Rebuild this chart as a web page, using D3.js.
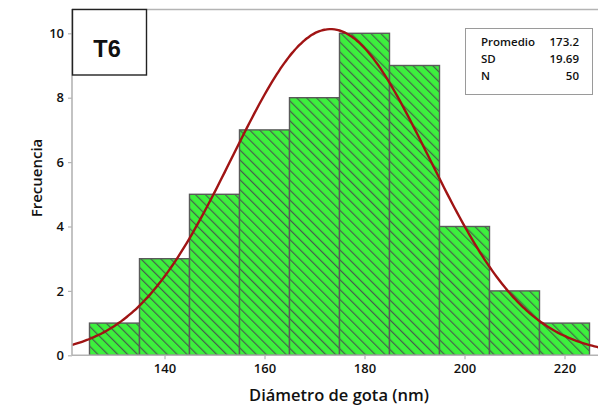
<!DOCTYPE html>
<html>
<head>
<meta charset="utf-8">
<script src="https://cdn.jsdelivr.net/npm/d3@7"></script>
<style>
  html, body { margin: 0; padding: 0; background: #fff; }
  svg { display: block; }
  text { font-family: "Open Sans", "Noto Sans", sans-serif; fill: #111; }
</style>
</head>
<body>
<svg id="chart" width="598" height="406"></svg>
<script>
// Histogram bins (nm) and their counts
const binStarts = [125, 135, 145, 155, 165, 175, 185, 195, 205, 215];
const binWidth = 10;
const counts = [1, 3, 5, 7, 8, 10, 9, 4, 2, 1];
const xTicks = [140, 160, 180, 200, 220];
const yTicks = [0, 2, 4, 6, 8, 10];
// Summary statistics shown in the legend box
const statLabels = ["Promedio", "SD", "N"];
const statValues = ["173.2", "19.69", "50"];
const meanValue = 173.2, sdValue = 19.69, nValue = 50;

const svg = d3.select("#chart");
const plotLeft = 72, plotTop = 9, plotBottom = 355.3, plotRight = 598;

const x = d3.scaleLinear().domain([121.5, 226.8]).range([plotLeft, plotLeft + (226.8 - 121.5) * 5]);
const y = d3.scaleLinear().domain([0, 10]).range([plotBottom, plotBottom - 322]);

// Diagonal hatch pattern for the bars (lines run top-left to bottom-right)
const defs = svg.append("defs");
const pat = defs.append("pattern")
  .attr("id", "hatch").attr("patternUnits", "userSpaceOnUse")
  .attr("width", 7).attr("height", 7)
  .attr("patternTransform", "rotate(-45)");
pat.append("rect").attr("width", 7).attr("height", 7).attr("fill", "#3df03d");
pat.append("line").attr("x1", 0.6).attr("y1", 0).attr("x2", 0.6).attr("y2", 7)
  .attr("stroke", "#46614c").attr("stroke-width", 1.2);
defs.append("clipPath").attr("id", "plotclip")
  .append("rect").attr("x", plotLeft).attr("y", plotTop)
  .attr("width", plotRight - plotLeft).attr("height", plotBottom - plotTop);

// Frame: top border line
svg.append("line").attr("x1", plotLeft).attr("x2", plotRight)
  .attr("y1", plotTop + 0.5).attr("y2", plotTop + 0.5)
  .attr("stroke", "#b4b4b4").attr("stroke-width", 1.5);

// Bars
svg.append("g").selectAll("rect").data(binStarts).join("rect")
  .attr("x", d => x(d))
  .attr("width", d => x(d + binWidth) - x(d))
  .attr("y", (d, i) => y(counts[i]))
  .attr("height", (d, i) => y(0) - y(counts[i]))
  .attr("fill", "url(#hatch)")
  .attr("stroke", "#5a5a5a").attr("stroke-width", 1.4);

// Fitted normal curve from the legend statistics
const scaleFactor = nValue * binWidth / (sdValue * Math.sqrt(2 * Math.PI));
const curveX = d3.range(121.5, 227.01, 0.5);
const line = d3.line()
  .x(v => x(v))
  .y(v => y(scaleFactor * Math.exp(-0.5 * Math.pow((v - meanValue) / sdValue, 2))))
  .curve(d3.curveBasis);
svg.append("path").datum(curveX)
  .attr("d", line)
  .attr("clip-path", "url(#plotclip)")
  .attr("fill", "none").attr("stroke", "#a01414").attr("stroke-width", 2.4);

// Axes
const yAxis = d3.axisLeft(y).tickValues(yTicks).tickSize(4).tickPadding(4);
const gy = svg.append("g").attr("transform", `translate(${plotLeft},0)`).call(yAxis);
gy.select(".domain").attr("d", `M0,${plotTop}V${plotBottom}`);

const xAxis = d3.axisBottom(x).tickValues(xTicks).tickSize(4).tickPadding(4);
const gx = svg.append("g").attr("transform", `translate(0,${plotBottom})`).call(xAxis);
gx.select(".domain").attr("d", `M${plotLeft},0H${plotRight}`);

svg.selectAll(".domain").attr("stroke", "#b4b4b4").attr("stroke-width", 1.6);
svg.selectAll(".tick line").attr("stroke", "#b4b4b4").attr("stroke-width", 1.2);
svg.selectAll(".tick text")
  .style("font-family", '"Open Sans", sans-serif')
  .attr("font-size", 13).attr("font-weight", 600).attr("fill", "#111");

// Axis titles
svg.append("text").attr("x", 339).attr("y", 400.5)
  .attr("text-anchor", "middle").attr("font-size", 16.5).attr("font-weight", 600)
  .text("Diámetro de gota (nm)");
svg.append("text").attr("transform", "translate(41.5,178) rotate(-90)")
  .attr("text-anchor", "middle").attr("font-size", 15).attr("font-weight", 600)
  .text("Frecuencia");

// Panel label box
svg.append("rect").attr("x", 72.5).attr("y", 9.5).attr("width", 74).attr("height", 65.5)
  .attr("fill", "#fff").attr("stroke", "#222").attr("stroke-width", 1.4);
svg.append("text").attr("x", 107).attr("y", 57)
  .attr("text-anchor", "middle").attr("font-size", 23.5).attr("font-weight", 700)
  .style("font-family", '"Liberation Sans", Arial, sans-serif')
  .text("T6");

// Statistics legend box
svg.append("rect").attr("x", 465.5).attr("y", 28.5).attr("width", 127).attr("height", 66)
  .attr("fill", "#fff").attr("stroke", "#9a9a9a").attr("stroke-width", 1);
const stats = svg.append("g");
statLabels.forEach((lab, i) => {
  stats.append("text").attr("x", 481).attr("y", 46 + i * 17)
    .attr("font-size", 11.5).attr("font-weight", 600).text(lab);
  stats.append("text").attr("x", 579).attr("y", 46 + i * 17)
    .attr("text-anchor", "end").attr("font-size", 11.5).attr("font-weight", 600).text(statValues[i]);
});
</script>
</body>
</html>
